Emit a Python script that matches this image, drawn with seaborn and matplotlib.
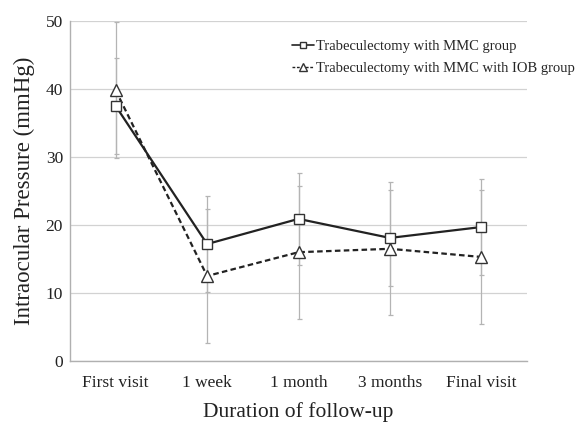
import matplotlib
matplotlib.use("Agg")
import matplotlib.pyplot as plt
from matplotlib.lines import Line2D
import seaborn as sns
import pandas as pd
import numpy as np

categories = ["First visit", "1 week", "1 month", "3 months", "Final visit"]
mmc_mean = [37.5, 17.2, 20.9, 18.1, 19.7]
mmc_sd = [7.0, 7.1, 6.8, 7.0, 7.0]
iob_mean = [39.8, 12.5, 16.0, 16.5, 15.3]
iob_sd = [10.0, 9.9, 9.8, 9.8, 9.9]
series_names = ["Trabeculectomy with MMC group", "Trabeculectomy with MMC with IOB group"]
yticks = [0, 10, 20, 30, 40, 50]

sns.set_theme(style="white")
plt.rcParams["font.family"] = ["Liberation Serif", "DejaVu Serif"]

fig = plt.figure(figsize=(5.84, 4.25), dpi=100)
ax = fig.add_axes([70 / 584, 1 - 361 / 425, (527 - 70) / 584, (361 - 21) / 425])

x = np.arange(len(categories))
df1 = pd.DataFrame({"x": x, "y": mmc_mean})
df2 = pd.DataFrame({"x": x, "y": iob_mean})

err_color = "#b4b4b4"
ax.errorbar(x, mmc_mean, yerr=mmc_sd, fmt="none", ecolor=err_color, elinewidth=0.9,
            capsize=1.8, capthick=0.9, zorder=2)
ax.errorbar(x, iob_mean, yerr=iob_sd, fmt="none", ecolor=err_color, elinewidth=0.9,
            capsize=1.8, capthick=0.9, zorder=2)

sns.lineplot(data=df2, x="x", y="y", ax=ax, color="#222222", linestyle=(0, (2.5, 1.5)),
             linewidth=1.6, marker="^", markersize=8, markerfacecolor="white",
             markeredgecolor="#333333", markeredgewidth=1.0, zorder=4)
sns.lineplot(data=df1, x="x", y="y", ax=ax, color="#222222", linestyle="-",
             linewidth=1.6, marker="s", markersize=7, markerfacecolor="white",
             markeredgecolor="#333333", markeredgewidth=1.0, zorder=5)

ax.set_xlim(-0.5, len(categories) - 0.5)
ax.set_ylim(0, 50)
ax.set_yticks(yticks)
ax.set_xticks(x)
ax.set_xticklabels(categories, fontsize=12.5, color="#222222")
ax.set_xticks(np.arange(0.5, len(categories) - 0.5, 1.0), minor=True)
ax.tick_params(axis="x", which="major", length=0, pad=10)
ax.tick_params(axis="x", which="minor", length=2, color="#b0b0b0", direction="in")
ax.tick_params(axis="y", length=2, color="#b0b0b0", labelsize=12.5, labelcolor="#222222", pad=3)

ax.yaxis.grid(True, color="#d2d2d2", linewidth=0.9)
ax.set_axisbelow(True)
for s in ["top", "right"]:
    ax.spines[s].set_visible(False)
for s in ["left", "bottom"]:
    ax.spines[s].set_color("#b0b0b0")
    ax.spines[s].set_linewidth(1.0)

ax.set_xlabel("Duration of follow-up", fontsize=15.5, color="#222222", labelpad=8)
ax.set_ylabel("Intraocular Pressure (mmHg)", fontsize=16.5, color="#222222", labelpad=8)

handles = [
    Line2D([], [], color="#222222", linestyle="-", linewidth=1.2, marker="s", markersize=5,
           markerfacecolor="white", markeredgecolor="#333333"),
    Line2D([], [], color="#222222", linestyle=(0, (2, 1.2)), linewidth=1.0, marker="^", markersize=5.5,
           markerfacecolor="white", markeredgecolor="#333333"),
]
leg = fig.legend(handles, series_names, loc="upper left", bbox_to_anchor=(292 / 584, 1 - 40 / 425),
                 frameon=False, fontsize=10.5, handlelength=1.5, handletextpad=0.15,
                 labelspacing=0.6, borderaxespad=0, borderpad=0)

fig.savefig("out.png", dpi=100, facecolor="white")
